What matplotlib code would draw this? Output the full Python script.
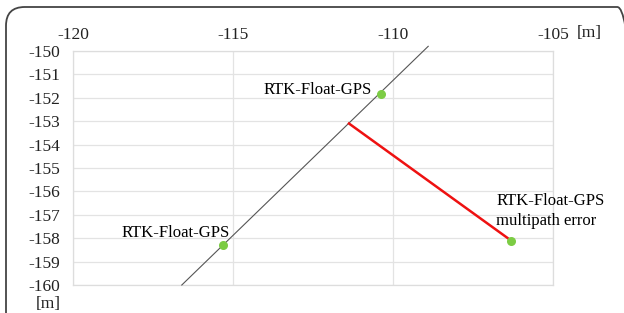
import numpy as np
import matplotlib.pyplot as plt
from matplotlib.patches import FancyBboxPatch

plt.rcParams['font.family'] = ['Liberation Serif', 'DejaVu Serif']
plt.rcParams['axes.unicode_minus'] = False

# trajectory line (black)
line_x = [-116.6, -108.9]
line_y = [-160.0, -149.8]

# RTK float GPS points
pts_x = [-110.375, -115.31, -106.31]
pts_y = [-151.84, -158.29, -158.1]
pt_labels = ['RTK-Float-GPS', 'RTK-Float-GPS', 'RTK-Float-GPS\nmultipath error']

# multipath error segment (red)
err_x = [-111.375, -106.31]
err_y = [-153.1, -158.1]

x_ticks = [-120, -115, -110, -105]
y_ticks = list(range(-150, -161, -1))

fig = plt.figure(figsize=(6.24, 3.13), dpi=100)
ax = fig.add_axes([73 / 624, 1 - 285 / 313, 480 / 624, 234 / 313])

ax.set_xlim(-120, -105)
ax.set_ylim(-160, -150)
ax.set_xticks(x_ticks)
ax.set_yticks(y_ticks)
ax.xaxis.tick_top()
ax.tick_params(axis='both', length=0, labelsize=12.5, colors='#222222')
ax.tick_params(axis='x', pad=6)
ax.tick_params(axis='y', pad=9)
ax.grid(True, color='#e3e3e3', lw=0.9)
for s in ax.spines.values():
    s.set_color('#dddddd')
    s.set_linewidth(0.9)
ax.set_axisbelow(True)

ax.plot(line_x, line_y, color='#555555', lw=0.8, clip_on=False, zorder=3)
ax.plot(err_x, err_y, color='#ee1111', lw=1.8, zorder=4)
ax.scatter(pts_x, pts_y, s=30, color='#7ccc44', zorder=5)

ax.text(pts_x[0] - 0.3, pts_y[0] - 0.15, pt_labels[0], ha='right', va='bottom', fontsize=12)
ax.text(pts_x[1] + 0.22, pts_y[1] + 0.15, pt_labels[1], ha='right', va='bottom', fontsize=12)
ax.text(pts_x[2] - 0.47, pts_y[2] + 1.25, pt_labels[2], ha='left', va='center', fontsize=12,
        linespacing=1.35)

fig.text(589 / 624, 1 - 33 / 313, '[m]', ha='center', va='center', fontsize=12.5, color='#222222')
fig.text(48 / 624, 1 - 304 / 313, '[m]', ha='center', va='center', fontsize=12.5, color='#222222')

frame = FancyBboxPatch((6 / 624, -0.1), 630 / 624, 1 - 7 / 313 + 0.1,
                       boxstyle='round,pad=0,rounding_size=0.03',
                       transform=fig.transFigure, fill=False, ec='#444444', lw=1.3,
                       mutation_aspect=624 / 313)
fig.patches.append(frame)

fig.savefig('out.png', dpi=100)
